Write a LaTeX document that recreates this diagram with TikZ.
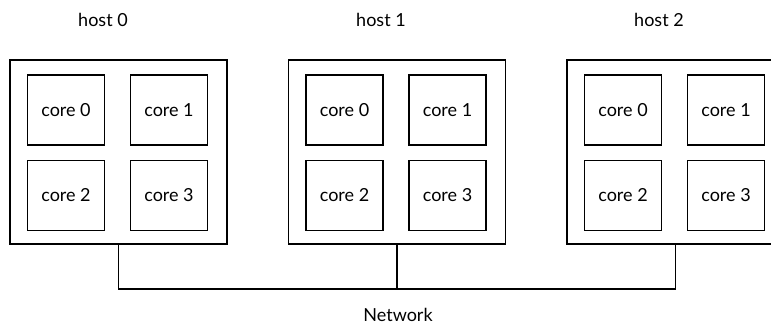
\documentclass[tikz,border=0pt]{standalone}
\usepackage{fontspec}
\setmainfont{Lato}
\usetikzlibrary{positioning}

\tikzset{
  hostbox/.style={draw, line width=1.3pt, minimum width=162.75pt, minimum height=138pt, inner sep=0pt},
  corebox/.style={draw, line width=1.3pt, minimum width=57.75pt, minimum height=52.5pt, inner sep=0pt},
  bus/.style={line width=1.3pt},
}

\begin{document}
\begin{tikzpicture}[x=0.75pt, y=-0.75pt, every node/.style={font=\fontsize{13.5}{16}\selectfont}]
  \useasboundingbox (0,0) rectangle (771,324);

  % hosts with four cores each
  \foreach \h in {0,1,2} {
    \node[hostbox] (h\h) at (118.5+278.5*\h,152) {};
    \node (lbl\h) at (103+278*\h,20) {host \h};
    \node[corebox] (h\h c0) at (66+278.5*\h,110) {core 0};
    \node[corebox] (h\h c1) at (169+278.5*\h,110) {core 1};
    \node[corebox] (h\h c2) at (66+278.5*\h,195.5) {core 2};
    \node[corebox] (h\h c3) at (169+278.5*\h,195.5) {core 3};
  }

  % network bus
  \coordinate (busmid) at (h1.south |- 0,289);
  \draw[bus] (h0.south) |- (busmid) -| (h2.south);
  \draw[bus] (h1.south) -- (busmid);
  \node[anchor=base] (net) at (398,321) {Network};
\end{tikzpicture}
\end{document}
